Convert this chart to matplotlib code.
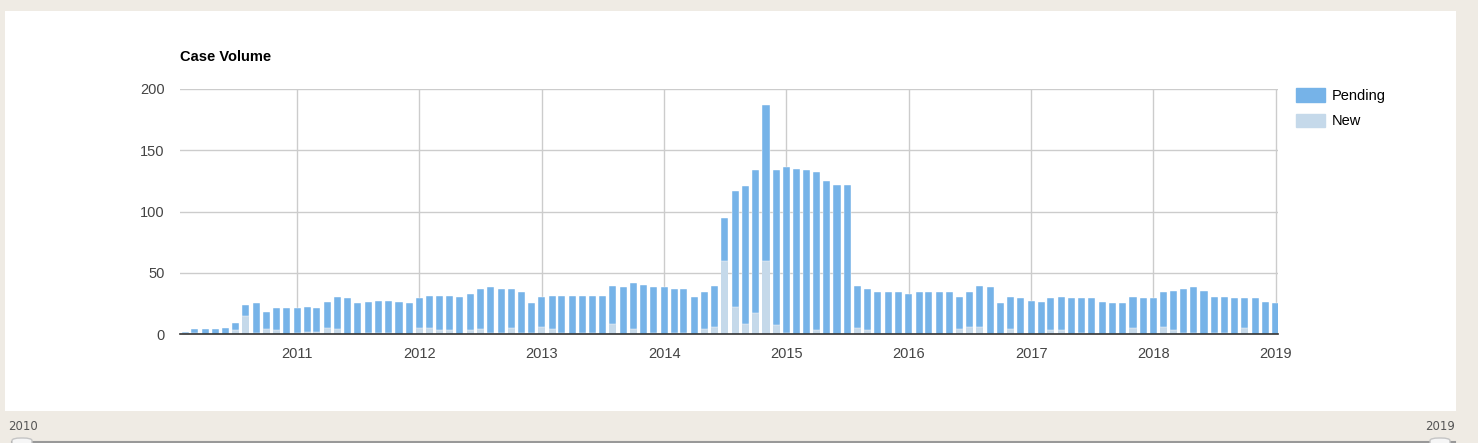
import matplotlib
matplotlib.use("Agg")
import matplotlib.pyplot as plt
from matplotlib.patches import Rectangle, FancyBboxPatch, Patch
import pandas as pd

# Monthly case volume, Feb 2010 - Jan 2019
months = pd.date_range("2010-02-01", periods=108, freq="MS")

new_cases = [
    1, 1, 0, 0, 0, 3, 15, 1, 4, 3, 0, 1,
    2, 2, 5, 4, 0, 0, 1, 1, 1, 0, 0, 5,
    5, 3, 3, 0, 3, 4, 1, 1, 5, 1, 1, 6,
    4, 1, 0, 1, 1, 0, 8, 0, 4, 0, 1, 0,
    1, 1, 0, 4, 6, 60, 22, 8, 17, 60, 7, 1,
    0, 0, 3, 0, 0, 0, 5, 3, 0, 0, 0, 0,
    0, 0, 0, 0, 4, 6, 6, 0, 0, 4, 0, 0,
    0, 3, 3, 0, 1, 0, 0, 0, 0, 5, 0, 0,
    6, 3, 1, 1, 0, 1, 1, 0, 5, 0, 0, 0,
]

pending_cases = [
    1, 3, 4, 4, 5, 6, 9, 24, 14, 18, 21, 20,
    20, 19, 21, 26, 29, 25, 25, 26, 26, 26, 25, 24,
    26, 28, 28, 30, 30, 33, 37, 36, 32, 33, 24, 24,
    27, 30, 31, 30, 30, 31, 31, 38, 38, 40, 37, 38,
    36, 36, 30, 30, 33, 35, 95, 113, 117, 127, 127, 135,
    135, 134, 129, 125, 122, 122, 34, 34, 34, 34, 34, 33,
    34, 34, 34, 34, 26, 28, 33, 38, 25, 26, 29, 27,
    26, 26, 27, 29, 28, 29, 26, 25, 25, 25, 29, 29,
    28, 32, 36, 37, 35, 29, 29, 29, 24, 29, 26, 25,
]

year_ticks = [pd.Timestamp(f"{y}-01-01") for y in range(2011, 2020)]
year_labels = [str(y) for y in range(2011, 2020)]
y_ticks = [0, 50, 100, 150, 200]

pending_color = "#76b3e8"
new_color = "#c5d9ea"
bg_color = "#efebe4"

W, H = 1478, 443
fig = plt.figure(figsize=(W / 100, H / 100), dpi=100)
fig.patch.set_facecolor(bg_color)

# white panel behind the chart
fig.patches.append(Rectangle((5 / W, 1 - 411 / H), 1451 / W, 400 / H,
                             transform=fig.transFigure, facecolor="white",
                             edgecolor="none", zorder=0))

ax = fig.add_axes([180 / W, (H - 334) / H, 1098 / W, 245 / H])
ax.set_zorder(2)
ax.set_facecolor("white")

bar_w = 21
ax.bar(months, new_cases, width=bar_w, color=new_color, zorder=3)
ax.bar(months, pending_cases, bottom=new_cases, width=bar_w, color=pending_color,
       edgecolor="white", linewidth=0.3, zorder=3)

ax.set_xlim(pd.Timestamp("2010-01-16"), pd.Timestamp("2019-01-08"))
ax.set_ylim(0, 200)
ax.set_xticks(year_ticks)
ax.set_xticklabels(year_labels)
ax.set_yticks(y_ticks)
ax.grid(True, color="#cccccc", linewidth=1, zorder=0)
ax.set_axisbelow(True)
for s in ["top", "right", "left"]:
    ax.spines[s].set_visible(False)
ax.spines["bottom"].set_color("#333333")
ax.spines["bottom"].set_linewidth(1.2)
ax.spines["bottom"].set_zorder(5)
ax.tick_params(length=0, labelsize=10.5, labelcolor="#444444", pad=9)
ax.tick_params(axis="y", pad=11)
for lab in ax.get_xticklabels() + ax.get_yticklabels():
    lab.set_fontfamily("Liberation Sans")

fig.text(180 / W, 1 - 57 / H, "Case Volume", fontsize=10.5, fontweight="bold",
         family="Liberation Sans", color="black", va="center", ha="left")

handles = [Patch(color=pending_color, label="Pending"),
           Patch(color=new_color, label="New")]
ax.legend(handles=handles, loc="upper left", bbox_to_anchor=(1296 / W, 1 - 88 / H),
          bbox_transform=fig.transFigure, frameon=False, borderpad=0,
          borderaxespad=0, handlelength=2.0, handleheight=1.05,
          handletextpad=0.45, labelspacing=0.75,
          prop={"family": "Liberation Sans", "size": 10.5})

# range slider strip at the bottom
fig.text(8 / W, 1 - 426 / H, "2010", fontsize=8.5, color="#555555",
         va="center", ha="left", family="DejaVu Sans")
fig.text(1455 / W, 1 - 426 / H, "2019", fontsize=8.5, color="#555555",
         va="center", ha="right", family="DejaVu Sans")
fig.add_artist(plt.Line2D([12 / W, 1455 / W], [1 - 442 / H, 1 - 442 / H],
                          transform=fig.transFigure, color="#999999", linewidth=1.5))
for hx in [12, 1430]:
    fig.patches.append(FancyBboxPatch((hx / W, 1 - 450 / H), 20 / W, 12 / H,
                                      boxstyle="round,pad=0,rounding_size=0.006",
                                      transform=fig.transFigure, facecolor="#f6f6f6",
                                      edgecolor="#c5c5c5", linewidth=1, zorder=3))

fig.savefig("out.png", dpi=100, facecolor=fig.get_facecolor())
